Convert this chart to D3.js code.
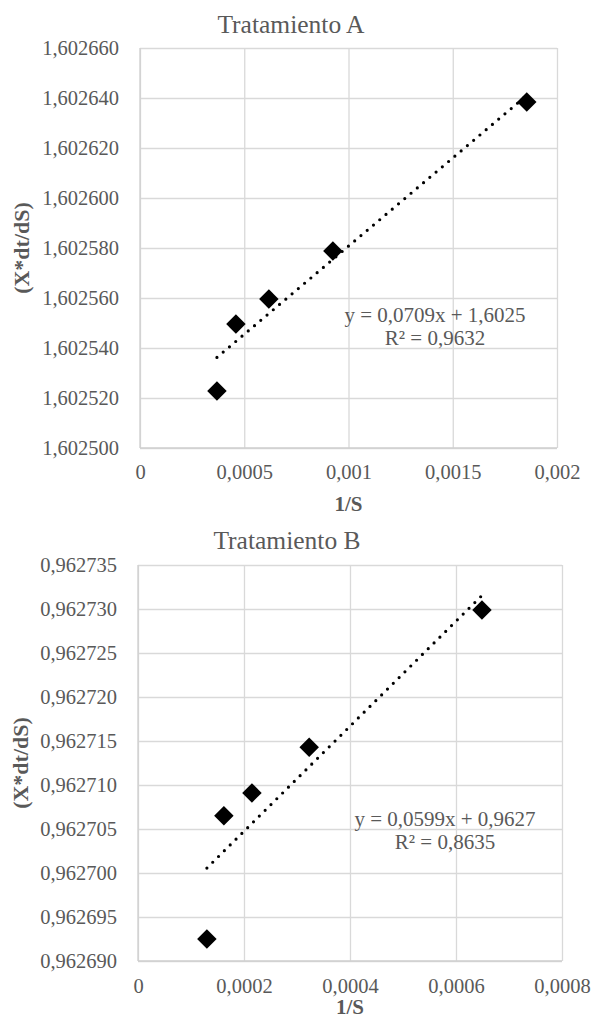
<!DOCTYPE html>
<html>
<head>
<meta charset="utf-8">
<script src="https://cdn.jsdelivr.net/npm/d3@7"></script>
<style>
  body { margin: 0; background: #fff; }
  svg { display: block; }
  text { font-family: "Liberation Serif", "Times New Roman", Times, "DejaVu Serif", serif; fill: #595959; }
</style>
</head>
<body>
<div id="chart"></div>
<script>
// Tratamiento A: 1/S vs (X*dt/dS)
var xA = [0.000369, 0.00046, 0.000618, 0.000925, 0.001855];
var yA = [1.6025228, 1.6025496, 1.6025596, 1.6025788, 1.6026384];
var xTicksA = [0, 0.0005, 0.001, 0.0015, 0.002];
var yTicksA = [1.6025, 1.60252, 1.60254, 1.60256, 1.60258, 1.6026, 1.60262, 1.60264, 1.60266];
var eqA = ["y = 0,0709x + 1,6025", "R² = 0,9632"];

// Tratamiento B
var xB = [0.00013, 0.000162, 0.000215, 0.000323, 0.000649];
var yB = [0.9626925, 0.9627065, 0.9627091, 0.9627143, 0.9627299];
var xTicksB = [0, 0.0002, 0.0004, 0.0006, 0.0008];
var yTicksB = [0.96269, 0.962695, 0.9627, 0.962705, 0.96271, 0.962715, 0.96272, 0.962725, 0.96273, 0.962735];
var eqB = ["y = 0,0599x + 0,9627", "R² = 0,8635"];

var FONT = "'Liberation Serif', 'Times New Roman', Times, 'DejaVu Serif', serif";

var svg = d3.select("#chart").append("svg")
  .attr("width", 592)
  .attr("height", 1019)
  .attr("font-family", FONT);

// comma as decimal separator, like the spreadsheet
function xFmt(v) { return String(v).replace(".", ","); }
function yFmt(v) { return v.toFixed(6).replace(".", ","); }

// least squares fit for the dotted trendline
function linFit(xs, ys) {
  var mx = d3.mean(xs), my = d3.mean(ys);
  var sxy = 0, sxx = 0;
  for (var i = 0; i < xs.length; i++) {
    sxy += (xs[i] - mx) * (ys[i] - my);
    sxx += (xs[i] - mx) * (xs[i] - mx);
  }
  var b = sxy / sxx;
  return { slope: b, icpt: my - b * mx };
}

function drawChart(c) {
  var w = c.right - c.left, h = c.bottom - c.top;

  var x = d3.scaleLinear().domain(d3.extent(c.xTicks)).range([0, w]);
  var y = d3.scaleLinear().domain(d3.extent(c.yTicks)).range([h, 0]);

  var g = svg.append("g").attr("transform", "translate(" + c.left + "," + c.top + ")");

  // y axis + horizontal grid
  var gy = g.append("g")
    .call(d3.axisLeft(y).tickValues(c.yTicks).tickFormat(yFmt).tickSize(-w).tickPadding(21))
    .attr("font-family", FONT);
  gy.select(".domain").remove();
  gy.selectAll("line").attr("stroke", "#d9d9d9").attr("stroke-width", 1.3);
  gy.selectAll("text").attr("font-size", 20.5).attr("fill", "#595959");

  // x axis + vertical grid
  var gx = g.append("g")
    .attr("transform", "translate(0," + h + ")")
    .call(d3.axisBottom(x).tickValues(c.xTicks).tickFormat(xFmt).tickSize(-h).tickPadding(c.xPad))
    .attr("font-family", FONT);
  gx.select(".domain").remove();
  gx.selectAll("line").attr("stroke", "#d9d9d9").attr("stroke-width", 1.3);
  gx.selectAll("text").attr("font-size", 20.5).attr("fill", "#595959");

  // axis lines
  g.append("line").attr("x1", 0).attr("x2", 0).attr("y1", 0).attr("y2", h)
    .attr("stroke", "#cfcfcf").attr("stroke-width", 1.3);
  g.append("line").attr("x1", 0).attr("x2", w).attr("y1", h).attr("y2", h)
    .attr("stroke", "#cfcfcf").attr("stroke-width", 1.3);

  // trendline
  var fit = linFit(c.xs, c.ys);
  var ext = d3.extent(c.xs);
  g.append("path")
    .datum(ext)
    .attr("fill", "none")
    .attr("stroke", "#000")
    .attr("stroke-width", 3.2)
    .attr("stroke-linecap", "round")
    .attr("stroke-dasharray", "0,8.2")
    .attr("d", d3.line()
      .x(function(d) { return x(d); })
      .y(function(d) { return y(fit.icpt + fit.slope * d); }));

  // diamond markers
  var pts = c.xs.map(function(v, i) { return [v, c.ys[i]]; });
  g.selectAll(".pt")
    .data(pts)
    .enter().append("path")
    .attr("class", "pt")
    .attr("fill", "#000")
    .attr("d", d3.symbol().type(d3.symbolSquare).size(190))
    .attr("transform", function(d) {
      return "translate(" + x(d[0]) + "," + y(d[1]) + ") rotate(45)";
    });

  // titles
  svg.append("text")
    .attr("x", c.titleX).attr("y", c.titleY)
    .attr("text-anchor", "middle")
    .attr("font-size", 25.5)
    .text(c.title);

  svg.append("text")
    .attr("x", c.left + w / 2).attr("y", c.xTitleY)
    .attr("text-anchor", "middle")
    .attr("font-size", 21).attr("font-weight", "bold")
    .text("1/S");

  svg.append("text")
    .attr("transform", "translate(" + c.yTitleX + "," + (c.top + h / 2) + ") rotate(-90)")
    .attr("text-anchor", "middle")
    .attr("font-size", 22).attr("font-weight", "bold")
    .text("(X*dt/dS)");

  // equation label
  svg.selectAll(null)
    .data(c.eq)
    .enter().append("text")
    .attr("x", c.eqX)
    .attr("y", function(d, i) { return c.eqY + i * 22.5; })
    .attr("text-anchor", "middle")
    .attr("font-size", 21)
    .text(function(d) { return d; });
}

drawChart({
  xs: xA, ys: yA, xTicks: xTicksA, yTicks: yTicksA, eq: eqA,
  title: "Tratamiento A",
  left: 140, right: 557, top: 48, bottom: 448,
  xPad: 16.5, titleX: 291, titleY: 33, xTitleY: 511, yTitleX: 29,
  eqX: 435, eqY: 322
});

drawChart({
  xs: xB, ys: yB, xTicks: xTicksB, yTicks: yTicksB, eq: eqB,
  title: "Tratamiento B",
  left: 138, right: 562, top: 565, bottom: 961,
  xPad: 17.5, titleX: 287, titleY: 549, xTitleY: 1014, yTitleX: 28,
  eqX: 445, eqY: 826
});
</script>
</body>
</html>
